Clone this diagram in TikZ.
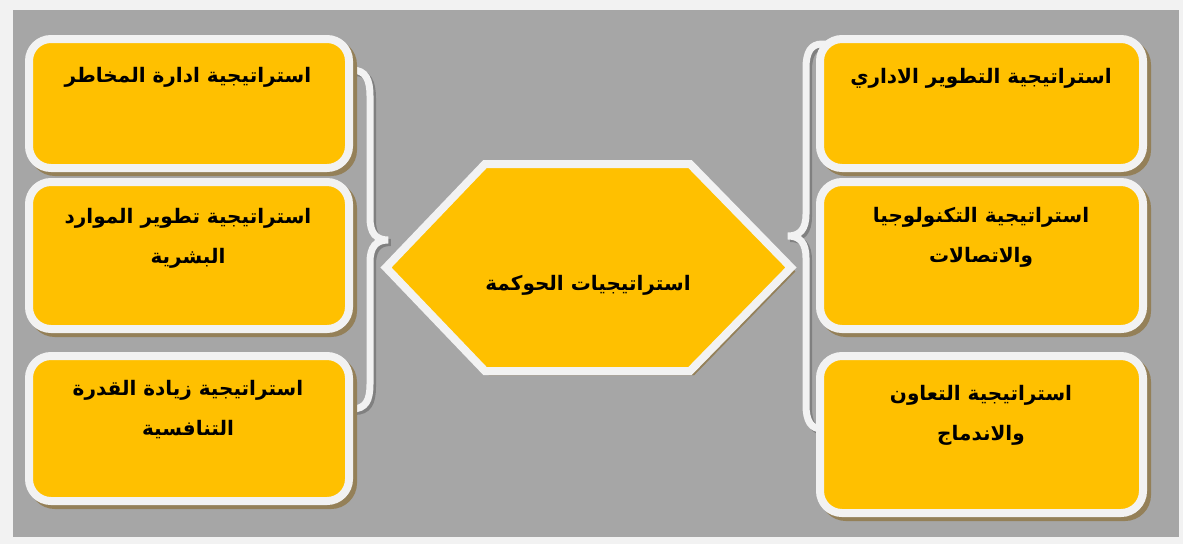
\documentclass[tikz,border=0pt]{standalone}
\usepackage{fontspec}
\newfontfamily\arabicfont[Script=Arabic]{DejaVu Sans}
\TeXXeTstate=1
\definecolor{pagebg}{HTML}{F2F2F2}
\definecolor{panel}{HTML}{A6A6A6}
\definecolor{gold}{HTML}{FFC000}
\definecolor{rim}{HTML}{F2F2F2}
\definecolor{shadowc}{RGB}{148,128,88}
\definecolor{braceshadow}{HTML}{808080}
\tikzset{
  box/.style={draw=rim, fill=gold, line width=8pt, rounded corners=22pt,
    inner sep=0pt,
    preaction={fill=shadowc, draw=shadowc, transform canvas={shift={(4pt,-4pt)}}}},
  lbl/.style={font=\arabicfont\bfseries\fontsize{20}{40}\selectfont, align=center, text=black, inner sep=0pt},
  bracepath/.style={draw=rim, line width=7pt, line cap=butt,
    preaction={draw=braceshadow, line width=7pt, transform canvas={shift={(2.5pt,-2.5pt)}}}},
  hexpath/.style={draw=rim, fill=gold, line width=8pt, line join=miter,
    preaction={fill=shadowc, draw=shadowc, transform canvas={shift={(4pt,-4pt)}}}}
}
\begin{document}
\begin{tikzpicture}[x=1pt,y=-1pt]
\useasboundingbox (0,0) rectangle (1183,544);
\fill[pagebg] (0,0) rectangle (1183,544);
\fill[panel] (13,10) rectangle (1179,537);
% braces
\draw[bracepath] (338,70) -- (352,70) .. controls (366,70) and (370,80) .. (370,96)
  -- (370,218) .. controls (370,233) and (376,240) .. (388,240)
  .. controls (376,240) and (370,247) .. (370,262)
  -- (370,384) .. controls (370,400) and (366,409) .. (352,409) -- (338,409);
\draw[bracepath] (830,44) -- (822,44) .. controls (811,44) and (806,52) .. (806,68)
  -- (806,214) .. controls (806,229) and (800,236) .. (788,236)
  .. controls (800,236) and (806,243) .. (806,258)
  -- (806,405) .. controls (806,421) and (811,429) .. (822,429) -- (830,429);
% left boxes
\node[box, minimum width=320pt, minimum height=129pt] (L1) at (189,103.5) {};
\node[box, minimum width=320pt, minimum height=147pt] (L2) at (189,255.5) {};
\node[box, minimum width=320pt, minimum height=145pt] (L3) at (189,428.5) {};
% right boxes
\node[box, minimum width=323pt, minimum height=129pt] (R1) at (981.5,103.5) {};
\node[box, minimum width=323pt, minimum height=147pt] (R2) at (981.5,255.5) {};
\node[box, minimum width=323pt, minimum height=157pt] (R3) at (981.5,434.5) {};
% hexagon
\coordinate (hexc) at (588,267.5);
\draw[hexpath] (386,267.5) -- (485,164) -- (690,164) -- (791,267.5) -- (690,371) -- (485,371) -- cycle;
% texts
\node[lbl] (tL1) at (188,77) {\beginR استراتيجية ادارة المخاطر\endR};
\node[lbl] (tL2) at (188,238.5) {\beginR استراتيجية تطوير الموارد\endR\\\beginR البشرية\endR};
\node[lbl] (tL3) at (188,410) {\beginR استراتيجية زيادة القدرة\endR\\\beginR التنافسية\endR};
\node[lbl] (tR1) at (981,78) {\beginR استراتيجية التطوير الاداري\endR};
\node[lbl] (tR2) at (981,237) {\beginR استراتيجية التكنولوجيا\endR\\\beginR والاتصالات\endR};
\node[lbl] (tR3) at (981,415) {\beginR استراتيجية التعاون\endR\\\beginR والاندماج\endR};
\node[lbl] (tC) at (588,285) {\beginR استراتيجيات الحوكمة\endR};
\end{tikzpicture}
\end{document}
